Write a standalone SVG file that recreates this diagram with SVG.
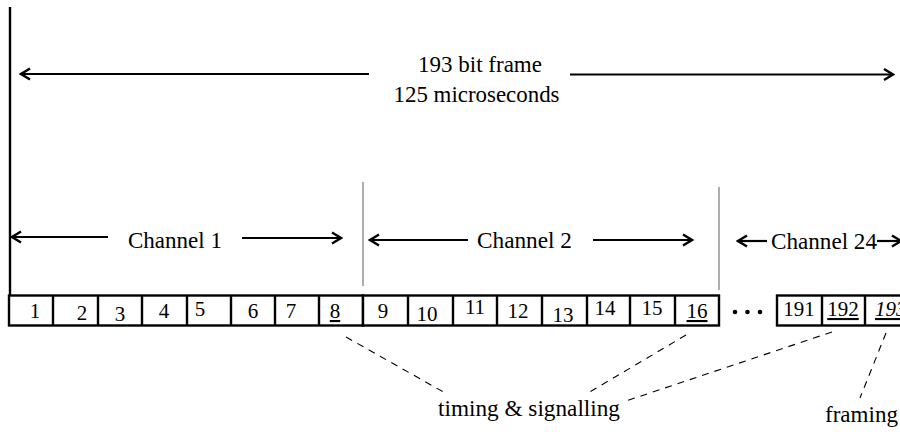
<svg xmlns="http://www.w3.org/2000/svg" width="900" height="432" viewBox="0 0 900 432">
  <style>
    text { font-family: "Liberation Serif", "Times New Roman", serif; fill: #000; }
    .lbl { font-size: 22.5px; }
    .bit { font-size: 21px; text-anchor: middle; }
    .ul { text-decoration: underline; }
    .arrow { stroke: #000; stroke-width: 2.2; fill: none; }
    .sep { stroke: #777; stroke-width: 1.2; fill: none; }
    .cell { stroke: #000; stroke-width: 2.4; fill: #fff; }
    .dash { stroke: #000; stroke-width: 1.1; fill: none; stroke-dasharray: 7 6; }
  </style>
  <defs>
    <marker id="head" viewBox="0 0 12 14" refX="10" refY="7" markerWidth="12" markerHeight="14" markerUnits="userSpaceOnUse" orient="auto-start-reverse">
      <path d="M1,1.5 L10,7 L1,12.5" fill="none" stroke="#000" stroke-width="2.4"/>
    </marker>
  </defs>
  <rect width="900" height="432" fill="#fff"/>

  <!-- frame boundary on the left -->
  <line x1="10" y1="7" x2="10" y2="296" stroke="#000" stroke-width="2.4"/>

  <!-- channel separators -->
  <g id="separators">
    <line class="sep" x1="363" y1="182" x2="363" y2="286"/>
    <line class="sep" x1="719" y1="187" x2="719" y2="290"/>
  </g>

  <!-- frame label -->
  <g id="frame-label">
    <text class="lbl" x="480" y="72" text-anchor="middle" textLength="124" lengthAdjust="spacingAndGlyphs">193 bit frame</text>
    <text class="lbl" x="476.5" y="102" text-anchor="middle" textLength="166" lengthAdjust="spacingAndGlyphs">125 microseconds</text>
  </g>

  <!-- channel labels -->
  <g id="channel-1">
    <text class="lbl" x="128" y="248" textLength="94" lengthAdjust="spacingAndGlyphs">Channel 1</text>
  </g>
  <g id="channel-2">
    <text class="lbl" x="477" y="248" textLength="95" lengthAdjust="spacingAndGlyphs">Channel 2</text>
  </g>
  <g id="channel-24">
    <text class="lbl" x="771" y="249" textLength="106" lengthAdjust="spacingAndGlyphs">Channel 24</text>
  </g>

  <!-- bit cells -->
  <g id="bits-1-16">
    <rect class="cell" x="9" y="295.5" width="354" height="30"/>
    <rect class="cell" x="363" y="295.5" width="356" height="30"/>
    <path d="M53,295.5V325.5 M98,295.5V325.5 M142,295.5V325.5 M187,295.5V325.5 M231,295.5V325.5 M275,295.5V325.5 M319,295.5V325.5 M408,295.5V325.5 M453,295.5V325.5 M497,295.5V325.5 M542,295.5V325.5 M587,295.5V325.5 M630,295.5V325.5 M675,295.5V325.5" stroke="#000" stroke-width="2.4"/>
    <text class="bit" x="35" y="318">1</text>
    <text class="bit" x="82" y="320">2</text>
    <text class="bit" x="120" y="320.5">3</text>
    <text class="bit" x="164" y="318">4</text>
    <text class="bit" x="200" y="315.5">5</text>
    <text class="bit" x="253" y="317.5">6</text>
    <text class="bit" x="291" y="318">7</text>
    <text class="bit ul" x="335" y="318">8</text>
    <text class="bit" x="383" y="318">9</text>
    <text class="bit" x="427" y="321">10</text>
    <text class="bit" x="475" y="314">11</text>
    <text class="bit" x="518" y="318">12</text>
    <text class="bit" x="563" y="322">13</text>
    <text class="bit" x="605" y="315">14</text>
    <text class="bit" x="652" y="315">15</text>
    <text class="bit ul" x="697" y="318">16</text>
  </g>

  <g id="ellipsis">
    <circle cx="735" cy="312" r="2.3"/>
    <circle cx="747.5" cy="312" r="2.3"/>
    <circle cx="760" cy="312" r="2.3"/>
  </g>

  <g id="bits-191-193">
    <rect class="cell" x="777" y="295.5" width="140" height="30"/>
    <path d="M822,295.5V325.5 M865,295.5V325.5" stroke="#000" stroke-width="2.4"/>
    <text class="bit" x="799" y="315.5">191</text>
    <text class="bit ul" x="843" y="316">192</text>
    <text class="bit ul" x="875" y="316" style="text-anchor:start;font-style:italic">193</text>
  </g>

  <!-- annotations -->
  <g id="timing-label">
    <text class="lbl" x="438" y="416" textLength="182" lengthAdjust="spacingAndGlyphs">timing &amp; signalling</text>
  </g>
  <g id="framing-label">
    <text class="lbl" x="825" y="422" textLength="73" lengthAdjust="spacingAndGlyphs">framing</text>
  </g>

  <g id="connectors">
    <!-- frame span -->
    <line class="arrow" x1="369" y1="74" x2="21" y2="74" marker-end="url(#head)"/>
    <line class="arrow" x1="570" y1="74.5" x2="893" y2="74.5" marker-end="url(#head)"/>
    <!-- channel 1 span -->
    <line class="arrow" x1="108" y1="237" x2="12" y2="237" marker-end="url(#head)"/>
    <line class="arrow" x1="242" y1="238" x2="341" y2="238" marker-end="url(#head)"/>
    <!-- channel 2 span -->
    <line class="arrow" x1="468" y1="240" x2="370" y2="240" marker-end="url(#head)"/>
    <line class="arrow" x1="593" y1="240" x2="692" y2="240" marker-end="url(#head)"/>
    <!-- channel 24 span -->
    <line class="arrow" x1="767" y1="241" x2="738" y2="241" marker-end="url(#head)"/>
    <line class="arrow" x1="877" y1="241" x2="901" y2="241" marker-end="url(#head)"/>
    <!-- signalling and framing call-outs -->
    <line class="dash" x1="346" y1="337" x2="447" y2="394"/>
    <line class="dash" x1="686" y1="335" x2="588" y2="393"/>
    <line class="dash" x1="832" y1="332" x2="623" y2="402"/>
    <line class="dash" x1="886" y1="333" x2="860" y2="398"/>
  </g>
</svg>
